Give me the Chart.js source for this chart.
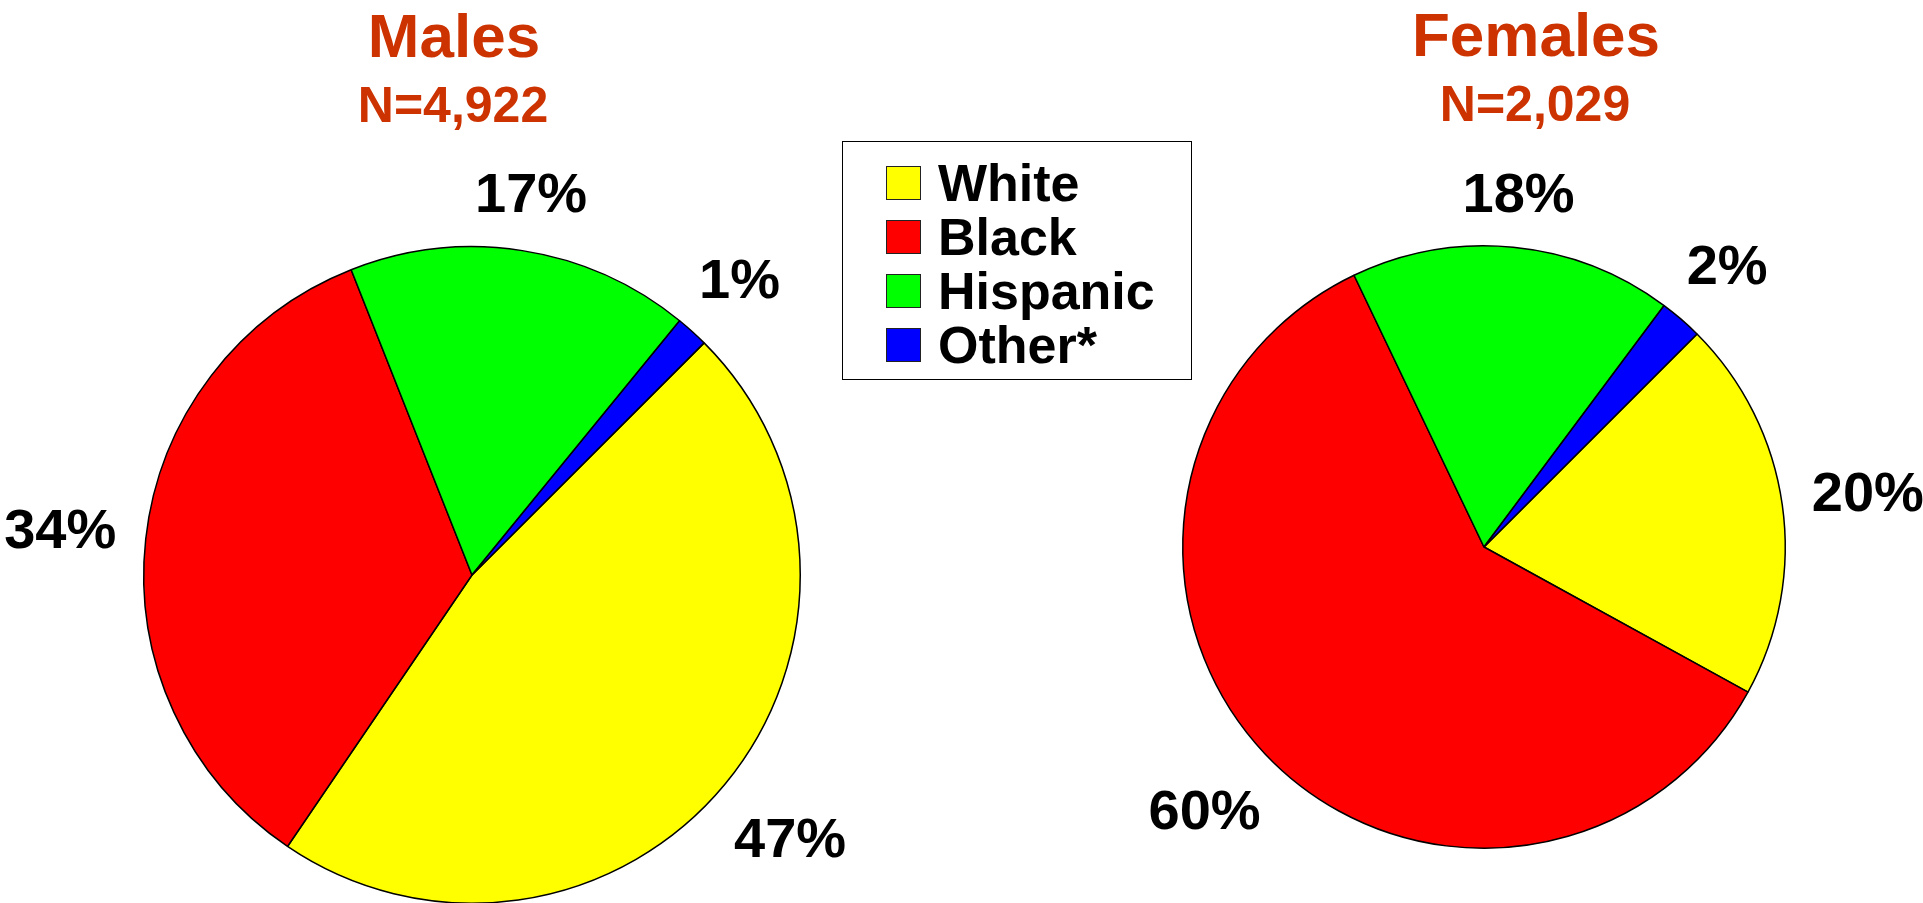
<!DOCTYPE html>
<html>
<head>
<meta charset="utf-8">
<script src="https://cdn.jsdelivr.net/npm/chart.js@4/dist/chart.umd.min.js"></script>
<style>
  html, body { margin: 0; padding: 0; background: #fff; overflow: hidden; }
  body { width: 1923px; height: 903px; position: relative; font-family: "Liberation Sans", Arial, sans-serif; font-weight: bold; }
  .title { position: absolute; color: #CC3300; text-align: center; white-space: nowrap; transform: translateX(-50%); }
  .t1 { font-size: 62px; line-height: 62px; }
  .t2 { font-size: 50px; line-height: 50px; }
  canvas { position: absolute; }
  #legend { position: absolute; left: 842px; top: 141px; border: 1px solid #000; padding: 14px 0 0 43px; box-sizing: border-box; width: 350px; height: 239px; z-index: 2; }
  .row { display: flex; align-items: center; height: 54px; font-size: 52px; line-height: 54px; color: #000; }
  .sw { width: 33px; height: 32px; border: 1px solid #222; margin-right: 17px; }
</style>
</head>
<body>
<div class="title t1" style="left:454px; top:5px;">Males</div>
<div class="title t2" style="left:453px; top:80px;">N=4,922</div>
<div class="title t1" style="left:1536px; top:4px;">Females</div>
<div class="title t2" style="left:1535px; top:79px;">N=2,029</div>
<div id="legend"></div>
<canvas id="maleChart" width="940" height="940" style="left:2px; top:105px;"></canvas>
<canvas id="femaleChart" width="900" height="900" style="left:1034px; top:97px;"></canvas>
<script>
// categories and colours
const categories = ['White', 'Black', 'Hispanic', 'Other*'];
const colors = ['#FFFF00', '#FF0000', '#00FF00', '#0000FF'];

// slice sizes (percent)
const maleShares = [47.0, 34.5, 16.9, 1.6];
const femaleShares = [20.5, 59.9, 17.3, 2.3];

// printed percentage labels
const maleLabels = ['47%', '34%', '17%', '1%'];
const femaleLabels = ['20%', '60%', '18%', '2%'];

// build legend
const legend = document.getElementById('legend');
categories.forEach((c, i) => {
  const row = document.createElement('div');
  row.className = 'row';
  row.innerHTML = `<div class="sw" style="background:${colors[i]}"></div><span>${c}</span>`;
  legend.appendChild(row);
});

// draws the percent text just outside each slice
const pctLabels = {
  id: 'pctLabels',
  afterDatasetsDraw(chart, args, opts) {
    const ctx = chart.ctx;
    const arcs = chart.getDatasetMeta(0).data;
    ctx.save();
    ctx.font = 'bold 56px "Liberation Sans", Arial, sans-serif';
    ctx.fillStyle = '#000';
    ctx.textAlign = 'center';
    ctx.textBaseline = 'middle';
    arcs.forEach((arc, i) => {
      const p = arc.getProps(['x', 'y', 'startAngle', 'endAngle', 'outerRadius'], true);
      const mid = (p.startAngle + p.endAngle) / 2;
      const cx = Math.cos(mid), cy = Math.sin(mid);
      const w = ctx.measureText(opts.labels[i]).width;
      // half the text box measured along the radial direction
      const extent = Math.abs(cx) * w / 2 + Math.abs(cy) * 21;
      const d = p.outerRadius + opts.gap + extent;
      ctx.fillText(opts.labels[i], p.x + cx * d, p.y + cy * d + 3);
    });
    ctx.restore();
  }
};

function createPie(canvasId, shares, labels, pad) {
  const ctx = document.getElementById(canvasId).getContext('2d');
  new Chart(ctx, {
    type: 'pie',
    data: {
      labels: categories,
      datasets: [{
        data: shares,
        backgroundColor: colors,
        borderColor: '#000',
        borderWidth: 1.5
      }]
    },
    options: {
      responsive: false,
      animation: false,
      rotation: 45,
      layout: { padding: pad },
      plugins: {
        legend: { display: false },
        tooltip: { enabled: false },
        pctLabels: { labels: labels, gap: 28 }
      }
    },
    plugins: [pctLabels]
  });
}

createPie('maleChart', maleShares, maleLabels, 141);
createPie('femaleChart', femaleShares, femaleLabels, 148);
</script>
</body>
</html>
